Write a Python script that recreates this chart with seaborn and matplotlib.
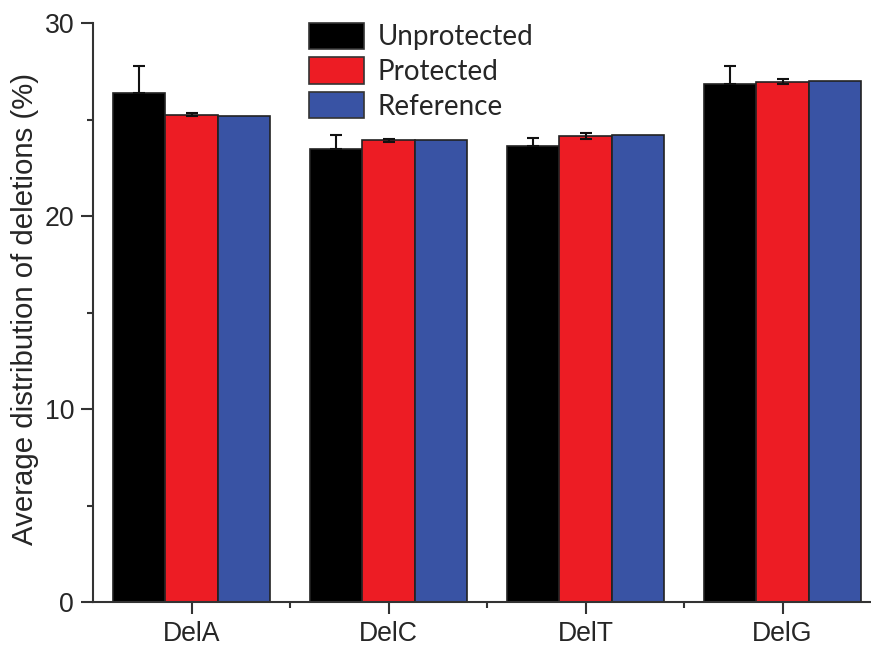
import pandas as pd
import matplotlib
matplotlib.use('Agg')
import matplotlib.pyplot as plt
import seaborn as sns

# Werte
categories = ['DelA', 'DelC', 'DelT', 'DelG']
groups = ['Unprotected', 'Protected', 'Reference']
unprotected = [26.36, 23.49, 23.65, 26.84]
unprotected_err = [1.39, 0.70, 0.37, 0.93]
protected = [25.25, 23.92, 24.15, 26.96]
protected_err = [0.09, 0.06, 0.14, 0.14]
reference = [25.16, 23.92, 24.21, 27.01]
colors = ['#000000', '#ED1C24', '#3953A4']

df = pd.DataFrame({
    'cat': categories * 3,
    'group': [g for g in groups for _ in categories],
    'value': unprotected + protected + reference,
})

sns.set_style('ticks')
plt.rcParams['font.family'] = ['Liberation Sans', 'DejaVu Sans']

fig = plt.figure(figsize=(8.71, 6.48), dpi=100)
ax = fig.add_axes([93 / 871, 46 / 648, 788 / 871, 579 / 648])

sns.barplot(data=df, x='cat', y='value', hue='group', order=categories,
            hue_order=groups, palette=colors, edgecolor='#222222',
            linewidth=1.2, errorbar=None, width=0.8, saturation=1, ax=ax)

# Fehlerbalken auf die Balkenmitten setzen
for cont, err, up_only in [(ax.containers[0], unprotected_err, True),
                           (ax.containers[1], protected_err, False)]:
    xs = [b.get_x() + b.get_width() / 2 for b in cont]
    ys = [b.get_height() for b in cont]
    yerr = [[0] * len(err), err] if up_only else err
    ax.errorbar(xs, ys, yerr=yerr, fmt='none', ecolor='#111111',
                elinewidth=1.5, capsize=4.3, capthick=1.5, zorder=5)

ax.set_xlim(-0.5, 3.5)
ax.set_ylim(0, 30)
ax.set_yticks([0, 10, 20, 30])
ax.set_yticks([5, 15, 25], minor=True)
ax.set_xticks([0.5, 1.5, 2.5], minor=True)
ax.set_xlabel('')
ax.set_ylabel('Average distribution of deletions (%)', fontsize=21.2)
ax.yaxis.set_label_coords(-0.069, 0.506)

sns.despine(ax=ax)
for s in ['left', 'bottom']:
    ax.spines[s].set_linewidth(1.5)
    ax.spines[s].set_color('#333333')
ax.tick_params(which='major', length=8.5, width=1.5, color='#333333',
               labelsize=19.2, pad=5)
ax.tick_params(which='minor', length=4.5, width=1.5, color='#333333')

leg = ax.legend(loc='upper left', bbox_to_anchor=(295 / 871, 1 - 9 / 648),
                bbox_transform=fig.transFigure, frameon=False, borderpad=0,
                handlelength=1.98, handleheight=1.08, handletextpad=0.5,
                labelspacing=0.25, prop={'family': 'Lato', 'size': 20})
for p in leg.get_patches():
    p.set_edgecolor('#333333')
    p.set_linewidth(1.2)

fig.savefig('out.png', dpi=100)
